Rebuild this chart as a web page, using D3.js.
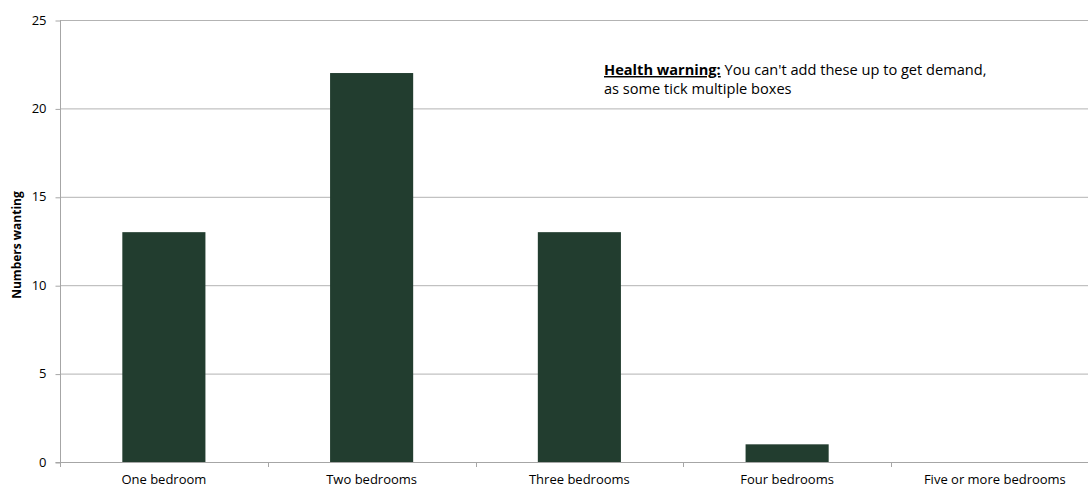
<!DOCTYPE html>
<html><head><meta charset="utf-8">
<script src="https://cdn.jsdelivr.net/npm/d3@7"></script>
<style>body{margin:0;background:#fff}svg{display:block}text{font-family:"Open Sans",sans-serif}</style>
</head><body><svg id="c" width="1088" height="489"></svg>
<script>
const categories = ["One bedroom","Two bedrooms","Three bedrooms","Four bedrooms","Five or more bedrooms"];
const values = [13, 22, 13, 1, 0];
const yTicks = [0, 5, 10, 15, 20, 25];
const yTitle = "Numbers wanting";
const noteBold = "Health warning:";
const noteLines = [" You can't add these up to get demand,", "as some tick multiple boxes"];

const svg = d3.select("#c");
const m = {left:60, top:20, bottom:462, right:1098.75};
const x = d3.scaleBand().domain(categories).range([m.left, m.right]).padding(0);
const y = d3.scaleLinear().domain([0,25]).range([m.bottom, m.top]);

// grid
svg.append("g").selectAll("line").data(yTicks.filter(d=>d>0)).join("line")
  .attr("x1", m.left).attr("x2", 1088).attr("y1", d=>y(d)+0.5).attr("y2", d=>y(d)+0.5)
  .attr("stroke", "#b3b3b3").attr("stroke-width", 1);

// y axis
const ya = svg.append("g").attr("transform", `translate(${m.left+0.5},0)`)
  .call(d3.axisLeft(y).tickValues(yTicks).tickSize(5).tickPadding(9).tickFormat(d3.format("d")));
ya.select(".domain").attr("stroke", "#a6a6a6").attr("d", `M-5,${y(0)+0.5}H0V${y(25)}`);
ya.selectAll(".tick line").attr("stroke", "#a6a6a6").attr("transform","translate(0,0.5)");
ya.selectAll("text").attr("font-size", 13).attr("fill", "#000").attr("font-family","'Open Sans',sans-serif");

// bars
const bw = x.bandwidth()*0.4;
svg.append("g").selectAll("rect").data(values).join("rect")
  .attr("x", (d,i)=>x(categories[i]) + (x.bandwidth()-bw)/2)
  .attr("y", d=>y(d))
  .attr("width", bw)
  .attr("height", d=>y(0)-y(d))
  .attr("fill", "#223d2f");

// x axis
svg.append("line").attr("x1", m.left).attr("x2", 1088).attr("y1", y(0)+0.5).attr("y2", y(0)+0.5)
  .attr("stroke", "#a6a6a6");
const bounds = categories.map(c=>x(c)).concat([m.right]);
svg.append("g").selectAll("line").data(bounds).join("line")
  .attr("x1", d=>Math.round(d)+0.5).attr("x2", d=>Math.round(d)+0.5)
  .attr("y1", y(0)).attr("y2", y(0)+5).attr("stroke", "#a6a6a6");
svg.append("g").selectAll("text").data(categories).join("text")
  .attr("x", d=>x(d)+x.bandwidth()/2).attr("y", 484)
  .attr("text-anchor","middle").attr("font-size",13).attr("fill","#000").text(d=>d);

// y title
svg.append("text").attr("transform", `translate(21,${(m.top+m.bottom)/2+4}) rotate(-90)`)
  .attr("text-anchor","middle").attr("font-size",12).attr("font-weight","bold").text(yTitle);

// note
const t1 = svg.append("text").attr("x",604).attr("y",75).attr("font-size",14.6).attr("fill","#000");
t1.append("tspan").attr("font-weight","bold").attr("text-decoration","underline").text(noteBold);
t1.append("tspan").text(noteLines[0]);
svg.append("text").attr("x",604).attr("y",94).attr("font-size",14.6).attr("fill","#000").text(noteLines[1]);
</script></body></html>
